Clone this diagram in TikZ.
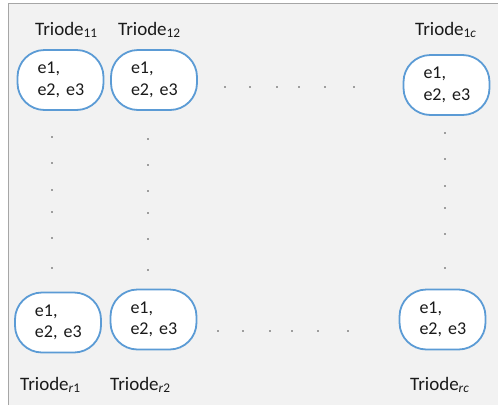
\documentclass[tikz,border=0pt]{standalone}
\usepackage{fontspec}
\setmainfont{Carlito}
\definecolor{bg}{HTML}{F2F2F2}
\definecolor{frame}{HTML}{A6A6A6}
\definecolor{cellblue}{HTML}{5B9BD5}
\definecolor{ink}{HTML}{1A1A1A}
\begin{document}
\begin{tikzpicture}[x=1pt,y=-1pt,
  cell/.style={draw=cellblue, line width=1.8pt, fill=white, rounded corners=27pt,
    minimum width=86pt, minimum height=60pt, text width=56pt, inner xsep=15pt,
    align=left, font=\fontsize{18}{21.5}\selectfont, text=ink},
  lbl/.style={anchor=base west, inner sep=0pt, font=\fontsize{19}{22}\selectfont, text=ink},
  dotmark/.style={fill=ink!80, draw=none}
]
\useasboundingbox (0,0) rectangle (498,405);
\fill[white] (0,0) rectangle (498,405);
\fill[bg] (8,3) rectangle (498,405);
\draw[frame, line width=1pt] (8,405) -- (8,3) -- (498,3);

% cells
\node[cell] (c11) at (60.5,80) {\hspace*{5pt}e1,\\\hspace*{5pt}e2, e3};
\node[cell] (c12) at (154,80) {\hspace*{5pt}e1,\\\hspace*{5pt}e2, e3};
\node[cell] (c1c) at (446.5,85) {\hspace*{5pt}e1,\\\hspace*{5pt}e2, e3};
\node[cell] (cr1) at (58,322.5) {\hspace*{5pt}e1,\\\hspace*{5pt}e2, e3};
\node[cell] (cr2) at (153.5,319.5) {\hspace*{5pt}e1,\\\hspace*{5pt}e2, e3};
\node[cell] (crc) at (442.5,319.5) {\hspace*{5pt}e1,\\\hspace*{5pt}e2, e3};

% labels
\node[lbl] (l11) at (35,35) {Triode\textsubscript{11}};
\node[lbl] (l12) at (118,35) {Triode\textsubscript{12}};
\node[lbl] (l1c) at (415,35) {Triode\textsubscript{1\textit{c}}};
\node[lbl] (lr1) at (20,390) {Triode\textsubscript{\textit{r}1}};
\node[lbl] (lr2) at (110,390) {Triode\textsubscript{\textit{r}2}};
\node[lbl] (lrc) at (410,390) {Triode\textsubscript{\textit{rc}}};

% vertical dots
\foreach \y in {137,163,190,212,238,268} \fill[dotmark] (52,\y) circle (0.9);
\foreach \y in {139,165,191,213,239,270} \fill[dotmark] (148,\y) circle (0.9);
\foreach \y in {133,159,186,208,234,268} \fill[dotmark] (445,\y) circle (0.9);
% horizontal dots
\foreach \x in {225,250,277,299,325,354} \fill[dotmark] (\x,87) circle (0.9);
\foreach \x in {218,243,270,292,318,348} \fill[dotmark] (\x,331) circle (0.9);
\end{tikzpicture}
\end{document}
